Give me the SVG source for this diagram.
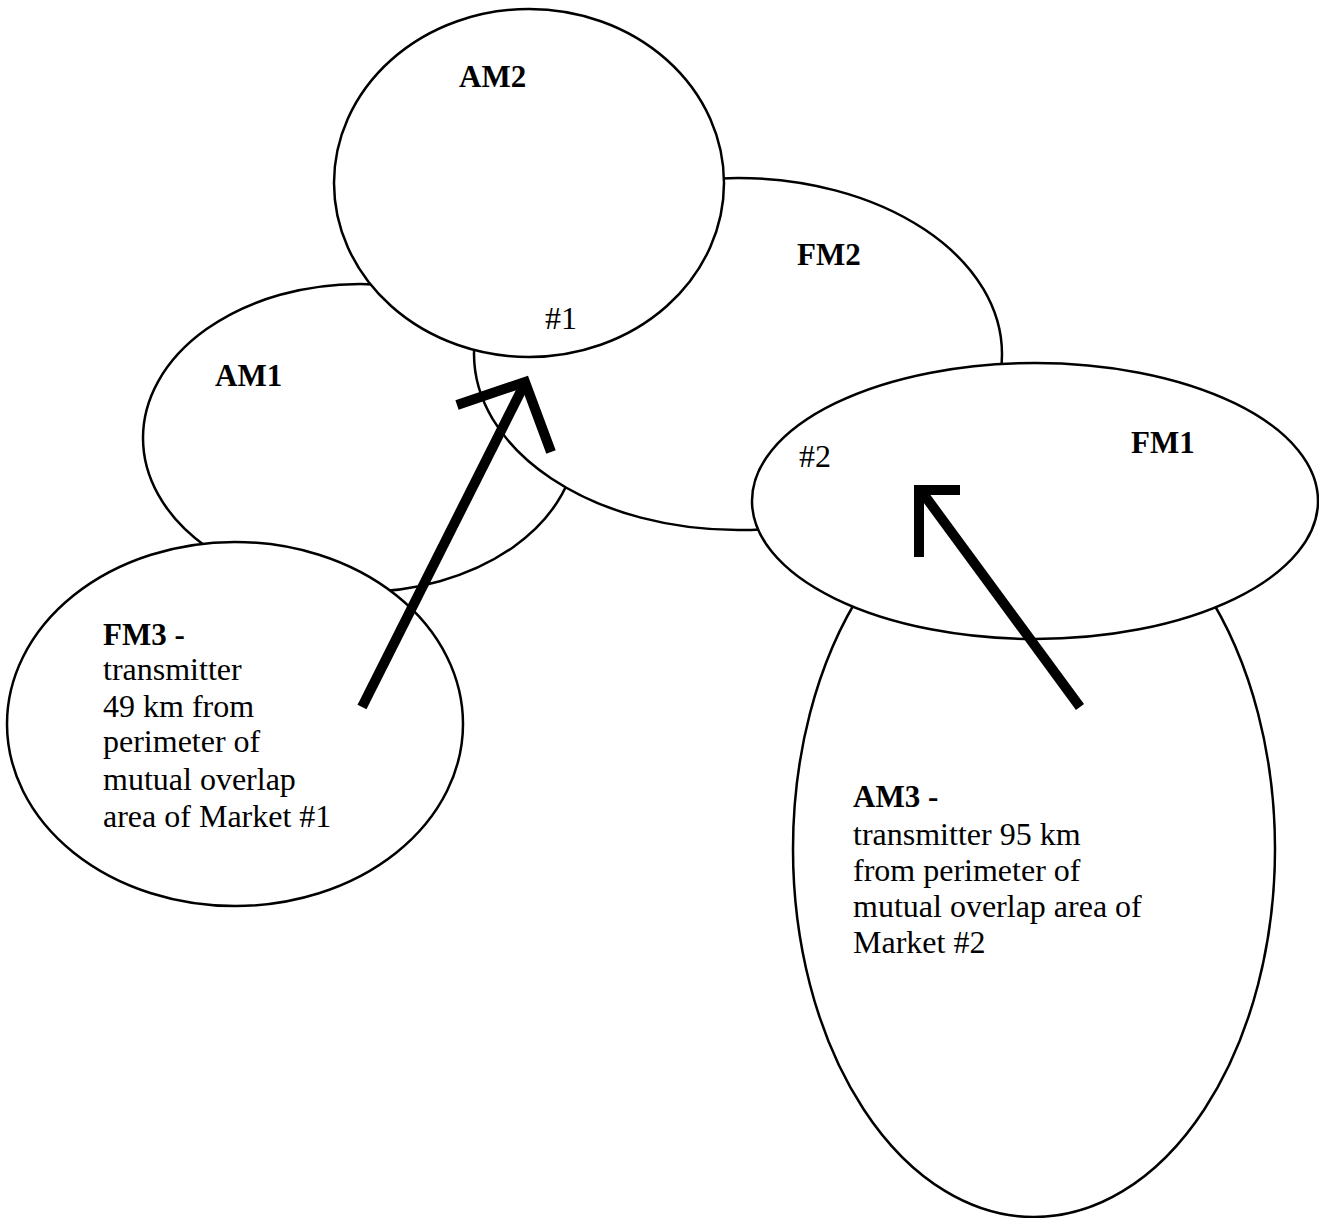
<svg xmlns="http://www.w3.org/2000/svg" width="1319" height="1218" viewBox="0 0 1319 1218">
<style>
.e{fill:#fff;stroke:#000;stroke-width:2.5}
.b{font-family:"Liberation Serif","Times New Roman",serif;font-weight:bold;font-size:31px;fill:#000}
.r{font-family:"Liberation Serif","Times New Roman",serif;font-size:32px;fill:#000}
.a{fill:none;stroke:#000;stroke-width:10;stroke-linecap:butt;stroke-linejoin:miter}
</style>
<rect width="1319" height="1218" fill="#fff"/>
<g id="AM1"><ellipse class="e" cx="360" cy="438" rx="217" ry="154"/><text class="b" x="215" y="386">AM1</text></g>
<g id="FM3"><ellipse class="e" cx="235" cy="724" rx="228" ry="182"/>
<text class="b" x="103" y="645">FM3 -</text>
<text class="r" x="103" y="680">transmitter</text>
<text class="r" x="103" y="717">49 km from</text>
<text class="r" x="103" y="752">perimeter of</text>
<text class="r" x="103" y="790">mutual overlap</text>
<text class="r" x="103" y="827">area of Market #1</text></g>
<g id="FM2"><ellipse class="e" cx="738" cy="354" rx="264" ry="176"/><text class="b" x="797" y="265">FM2</text></g>
<g id="AM2"><ellipse class="e" cx="529" cy="183" rx="195" ry="174"/><text class="b" x="459" y="87">AM2</text><text class="r" x="545" y="329">#1</text></g>
<g id="AM3"><ellipse class="e" cx="1034" cy="849" rx="241" ry="368"/>
<text class="b" x="853" y="807">AM3 -</text>
<text class="r" x="853" y="845">transmitter 95 km</text>
<text class="r" x="853" y="881">from perimeter of</text>
<text class="r" x="853" y="917">mutual overlap area of</text>
<text class="r" x="853" y="953">Market #2</text></g>
<g id="FM1"><ellipse class="e" cx="1035" cy="501" rx="283" ry="138"/><text class="b" x="1131" y="453">FM1</text><text class="r" x="799" y="467">#2</text></g>
<g id="connectors">
<line class="a" x1="362" y1="707" x2="524" y2="385"/>
<polyline class="a" points="457,405 525,382 551,452"/>
<line class="a" x1="1080" y1="707" x2="922" y2="492"/>
<polyline class="a" points="960,490 919,490 919,557"/>
</g>
</svg>
